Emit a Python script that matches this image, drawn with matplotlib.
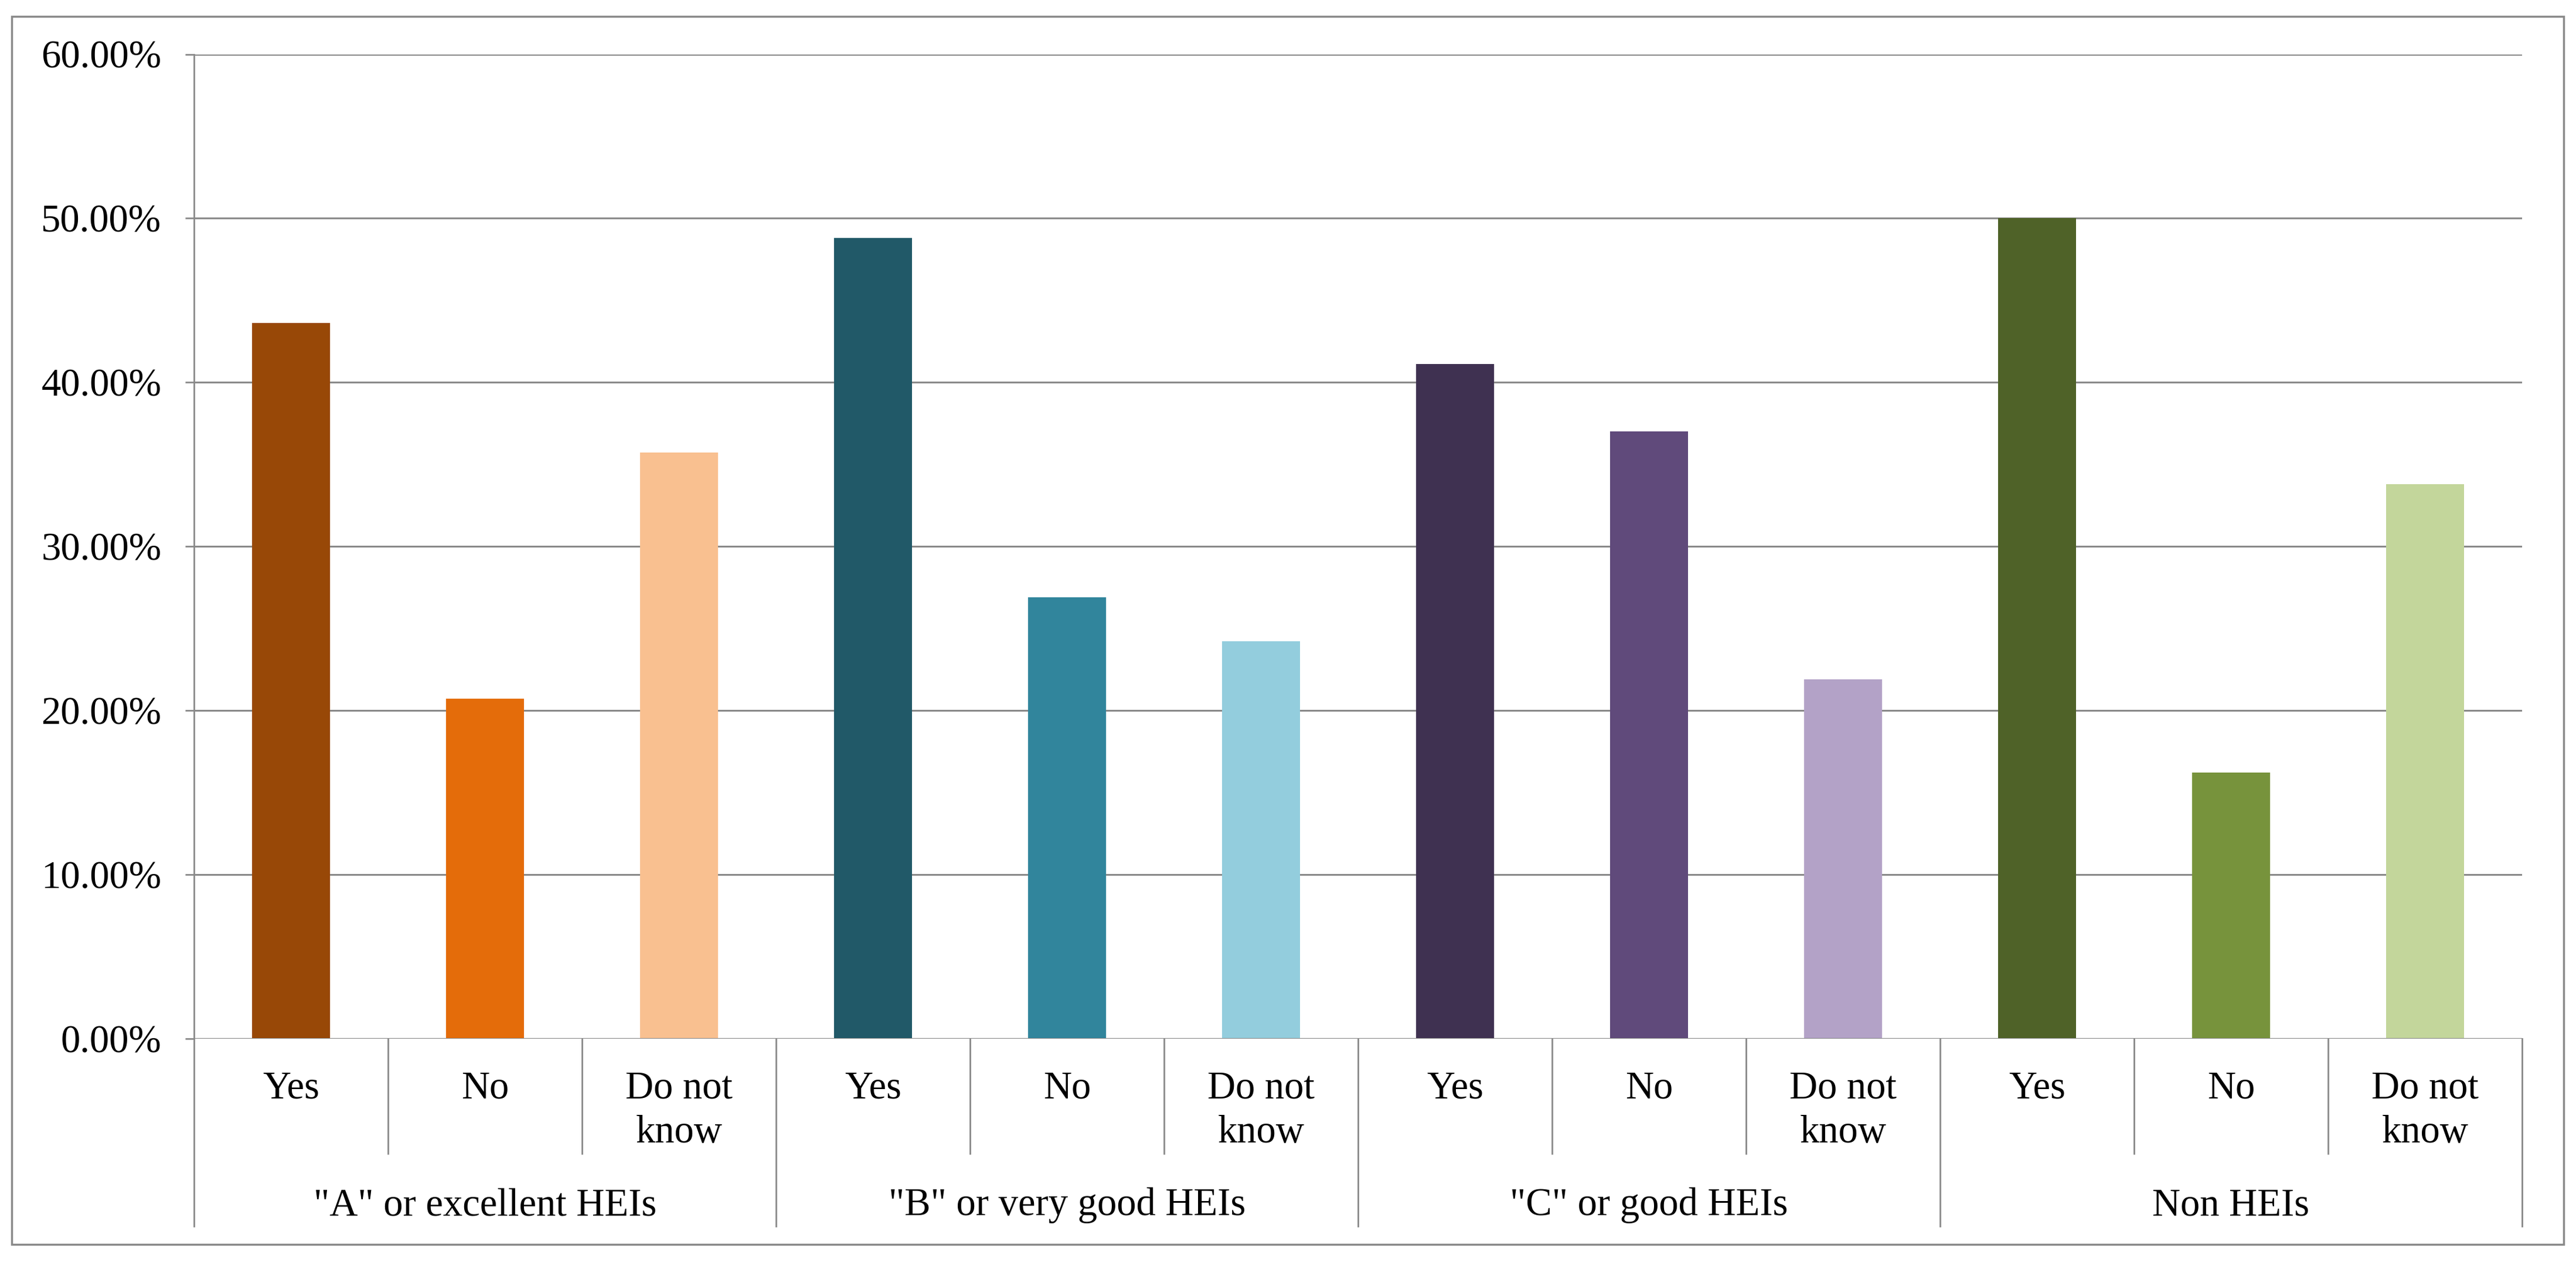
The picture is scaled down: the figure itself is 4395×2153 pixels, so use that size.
import matplotlib
matplotlib.use("Agg")
import matplotlib.pyplot as plt
from matplotlib.patches import Rectangle
from matplotlib.lines import Line2D
import matplotlib.transforms as mtransforms
import numpy as np

groups = ['"A" or excellent HEIs', '"B" or very good HEIs', '"C" or good HEIs', 'Non HEIs']
answers = ['Yes', 'No', 'Do not\nknow']
values_A = [43.6, 20.7, 35.7]
values_B = [48.8, 26.9, 24.2]
values_C = [41.1, 37.0, 21.9]
values_N = [50.0, 16.2, 33.8]
colors_A = ['#984807', '#E46C0A', '#F9C090']
colors_B = ['#215968', '#31859C', '#93CDDD']
colors_C = ['#3F3151', '#604A7B', '#B3A2C7']
colors_N = ['#4F6228', '#77933C', '#C3D69B']
yticks = [0, 10, 20, 30, 40, 50, 60]

values = values_A + values_B + values_C + values_N
colors = colors_A + colors_B + colors_C + colors_N

plt.rcParams['font.family'] = ['Liberation Serif', 'DejaVu Serif']
GRID = '#8a8a8a'
FS = 48

W, H = 4395, 2153
fig = plt.figure(figsize=(W / 100, H / 100), dpi=100)
left, right = 331 / W, 4303 / W
top_px, bot_px = 92.5, 1771.5
ax = fig.add_axes([left, 1 - bot_px / H, right - left, (bot_px - top_px) / H])

x = np.arange(len(values))
ax.bar(x, values, width=0.4, color=colors, zorder=3)

ax.set_xlim(-0.5, len(values) - 0.5)
ax.set_ylim(0, 60)
ax.set_yticks(yticks)
ax.set_yticklabels([f"{v:.2f}%" for v in yticks], fontsize=FS)
ax.tick_params(axis='y', length=11, width=2, color=GRID, pad=29)
ax.set_xticks([])
ax.yaxis.grid(True, color=GRID, linewidth=2.2, zorder=0)
for s in ['top', 'right', 'bottom']:
    ax.spines[s].set_visible(False)
ax.spines['left'].set_color(GRID)
ax.spines['left'].set_linewidth(2)
ax.axhline(0, color=GRID, linewidth=2.2, zorder=4)

ah = bot_px - top_px
trans = mtransforms.blended_transform_factory(ax.transData, ax.transAxes)
y_lbl = -0.033
y_inner = -(1968 - bot_px) / ah
y_outer = -(2092 - bot_px) / ah
y_grp = -(2073 - bot_px) / ah

labels = answers * len(groups)
for i, lab in enumerate(labels):
    ax.text(i, y_lbl, lab, transform=trans, ha='center', va='top', fontsize=FS,
            linespacing=1.3, clip_on=False)

for b in np.arange(-0.5, len(values), 1.0):
    is_group = abs(((b + 0.5) % 3)) < 1e-9
    y_end = y_outer if is_group else y_inner
    ax.add_line(Line2D([b, b], [0, y_end], transform=trans, color=GRID,
                       linewidth=2, clip_on=False))

for gi, g in enumerate(groups):
    ax.text(gi * 3 + 1, y_grp, g, transform=trans, ha='center', va='baseline',
            fontsize=FS, clip_on=False)

fig.patches.append(Rectangle((20 / W, 1 - 2123 / H), (4374 - 20) / W, (2123 - 28) / H,
                             transform=fig.transFigure, fill=False,
                             edgecolor=GRID, linewidth=2.5))

fig.savefig('out.png', dpi=100, facecolor='white')
